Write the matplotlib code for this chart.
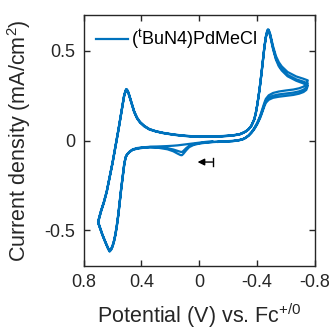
import numpy as np
import matplotlib
matplotlib.use("Agg")
import matplotlib.pyplot as plt

plt.rcParams['font.family'] = ['Liberation Sans', 'DejaVu Sans']
plt.rcParams['mathtext.default'] = 'regular'

# ---- data (potential in V vs Fc+/0, current density in mA/cm^2) ----
# segment A: -0.09 V -> +0.70 V
E_A = [-0.09, -0.04, 0.0, 0.04, 0.07, 0.09, 0.11, 0.12, 0.13, 0.15, 0.18, 0.22, 0.28, 0.34,
       0.39, 0.43, 0.46, 0.48, 0.50, 0.51, 0.52, 0.53, 0.54, 0.55, 0.56, 0.57, 0.58, 0.59,
       0.60, 0.61, 0.62, 0.63, 0.65, 0.67, 0.70]
I_A1 = [-0.004, -0.008, -0.012, -0.016, -0.019, -0.021, -0.023, -0.024, -0.025, -0.027, -0.029,
        -0.031, -0.033, -0.035, -0.038, -0.042, -0.049, -0.060, -0.077, -0.093, -0.135, -0.200,
        -0.265, -0.340, -0.410, -0.470, -0.520, -0.558, -0.586, -0.604, -0.613, -0.600, -0.563,
        -0.523, -0.452]
I_A2 = [-0.008, -0.011, -0.015, -0.021, -0.030, -0.042, -0.058, -0.064, -0.063, -0.058, -0.050,
        -0.043, -0.037, -0.036, -0.039, -0.044, -0.051, -0.062, -0.078, -0.095, -0.140, -0.205,
        -0.270, -0.345, -0.415, -0.475, -0.525, -0.562, -0.590, -0.607, -0.616, -0.602, -0.565,
        -0.525, -0.455]
I_A3 = [-0.009, -0.013, -0.017, -0.025, -0.037, -0.054, -0.074, -0.082, -0.081, -0.073, -0.060,
        -0.049, -0.041, -0.039, -0.041, -0.046, -0.052, -0.063, -0.080, -0.097, -0.143, -0.208,
        -0.273, -0.348, -0.418, -0.478, -0.528, -0.565, -0.593, -0.610, -0.619, -0.605, -0.567,
        -0.527, -0.458]

# segment B: +0.70 V -> -0.75 V
E_B = [0.70, 0.68, 0.66, 0.64, 0.62, 0.60, 0.58, 0.56, 0.54, 0.53,
       0.52, 0.51, 0.505, 0.50, 0.49, 0.47, 0.45, 0.43, 0.41, 0.38,
       0.345, 0.30, 0.25, 0.18, 0.115, 0.05, 0.0, -0.08, -0.16, -0.23,
       -0.28, -0.30, -0.32, -0.34, -0.36, -0.38, -0.39, -0.40, -0.41, -0.42,
       -0.43, -0.44, -0.45, -0.46, -0.47, -0.475, -0.48, -0.49, -0.50, -0.51,
       -0.53, -0.55, -0.57, -0.61, -0.67, -0.72, -0.75]
I_B1 = [-0.452, -0.392, -0.342, -0.282, -0.202, -0.122, -0.032, 0.058, 0.153, 0.203,
        0.251, 0.279, 0.287, 0.285, 0.269, 0.215, 0.163, 0.128, 0.104, 0.082,
        0.064, 0.052, 0.043, 0.034, 0.028, 0.024, 0.022, 0.023, 0.025, 0.029,
        0.036, 0.043, 0.051, 0.063, 0.083, 0.120, 0.152, 0.197, 0.250, 0.311,
        0.378, 0.453, 0.523, 0.580, 0.614, 0.620, 0.617, 0.594, 0.560, 0.525,
        0.470, 0.436, 0.413, 0.382, 0.357, 0.344, 0.335]
I_B2 = [-0.455, -0.395, -0.345, -0.285, -0.205, -0.125, -0.035, 0.055, 0.150, 0.200,
        0.248, 0.276, 0.284, 0.282, 0.266, 0.212, 0.160, 0.125, 0.102, 0.080,
        0.063, 0.051, 0.042, 0.033, 0.027, 0.023, 0.021, 0.022, 0.024, 0.028,
        0.035, 0.042, 0.050, 0.062, 0.082, 0.118, 0.150, 0.195, 0.248, 0.308,
        0.375, 0.450, 0.520, 0.576, 0.610, 0.616, 0.612, 0.588, 0.552, 0.515,
        0.458, 0.422, 0.398, 0.366, 0.341, 0.328, 0.318]
I_B3 = [-0.458, -0.398, -0.348, -0.288, -0.208, -0.128, -0.038, 0.052, 0.147, 0.197,
        0.245, 0.273, 0.281, 0.279, 0.263, 0.209, 0.157, 0.122, 0.100, 0.078,
        0.061, 0.050, 0.041, 0.032, 0.026, 0.022, 0.020, 0.021, 0.023, 0.027,
        0.034, 0.041, 0.049, 0.061, 0.081, 0.116, 0.148, 0.193, 0.246, 0.305,
        0.372, 0.447, 0.517, 0.572, 0.606, 0.612, 0.608, 0.583, 0.546, 0.508,
        0.450, 0.413, 0.390, 0.358, 0.333, 0.318, 0.305]

# segment C: -0.75 V -> -0.13 V
E_C = [-0.75, -0.74, -0.72, -0.69, -0.65, -0.60, -0.55, -0.51, -0.48, -0.46, -0.45, -0.44,
       -0.43, -0.42, -0.40, -0.38, -0.36, -0.34, -0.32, -0.30, -0.27, -0.23, -0.18, -0.13]
I_C1 = [0.335, 0.312, 0.300, 0.291, 0.284, 0.279, 0.273, 0.265, 0.252, 0.232, 0.211, 0.186,
        0.160, 0.136, 0.098, 0.069, 0.046, 0.028, 0.016, 0.008, 0.002, -0.002, -0.004, -0.006]
I_C2 = [0.318, 0.295, 0.283, 0.274, 0.267, 0.262, 0.257, 0.250, 0.238, 0.220, 0.200, 0.176,
        0.152, 0.130, 0.094, 0.066, 0.044, 0.027, 0.015, 0.007, 0.001, -0.003, -0.005, -0.007]
I_C3 = [0.305, 0.282, 0.270, 0.261, 0.254, 0.249, 0.244, 0.238, 0.227, 0.210, 0.191, 0.168,
        0.145, 0.124, 0.090, 0.063, 0.042, 0.026, 0.014, 0.006, 0.000, -0.004, -0.006, -0.008]

series_label = r'($^{t}$BuN4)PdMeCl'
x_ticks = [0.8, 0.4, 0, -0.4, -0.8]
x_ticklabels = ['0.8', '0.4', '0', '-0.4', '-0.8']
y_ticks = [-0.5, 0, 0.5]
y_ticklabels = ['-0.5', '0', '0.5']
x_limits = (0.8, -0.8)
y_limits = (-0.7, 0.7)

# scan-direction arrow (tail at start potential, head pointing to positive potential)
arrow_tail = (-0.092, -0.12)
arrow_head = (0.012, -0.12)
arrow_bar_half = 0.02

# ---- plot ----
potential = np.concatenate([E_A, E_B, E_C, E_A, E_B, E_C, E_A, E_B, E_C])
current = np.concatenate([I_A1, I_B1, I_C1, I_A2, I_B2, I_C2, I_A3, I_B3, I_C3])

fig = plt.figure(figsize=(3.33, 3.31), dpi=100)
ax = fig.add_axes([0.251, 0.196, 0.695, 0.759])

blue = '#0072BD'
dark = '#262626'
ax.plot(potential, current, color=blue, lw=1.6, label=series_label)

ax.set_xlim(*x_limits)
ax.set_ylim(*y_limits)
ax.set_xticks(x_ticks)
ax.set_xticklabels(x_ticklabels)
ax.set_yticks(y_ticks)
ax.set_yticklabels(y_ticklabels)

ax.tick_params(direction='in', length=4, width=1.0, top=True, right=True,
               labelsize=13, colors=dark, pad=6)
for sp in ax.spines.values():
    sp.set_linewidth(1.0)
    sp.set_color(dark)

ax.set_xlabel(r'Potential (V) vs. Fc$^{+/0}$', fontsize=15.5, color=dark)
ax.set_ylabel(r'Current density (mA/cm$^{2}$)', fontsize=15.5, color=dark)
ax.xaxis.set_label_coords(0.5, -0.14)
ax.yaxis.set_label_coords(-0.218, 0.5)

ax.annotate('', xy=arrow_head, xytext=arrow_tail,
            arrowprops=dict(arrowstyle='-|>', color='black', lw=1.0,
                            mutation_scale=10, shrinkA=0, shrinkB=0))
ax.plot([arrow_tail[0], arrow_tail[0]],
        [arrow_tail[1] - arrow_bar_half, arrow_tail[1] + arrow_bar_half],
        color='black', lw=1.0)

ax.legend(loc='upper left', frameon=False, fontsize=13, handlelength=1.75,
          handletextpad=0.2, borderaxespad=0.5, borderpad=0.2)

fig.savefig('out.png', dpi=100)
